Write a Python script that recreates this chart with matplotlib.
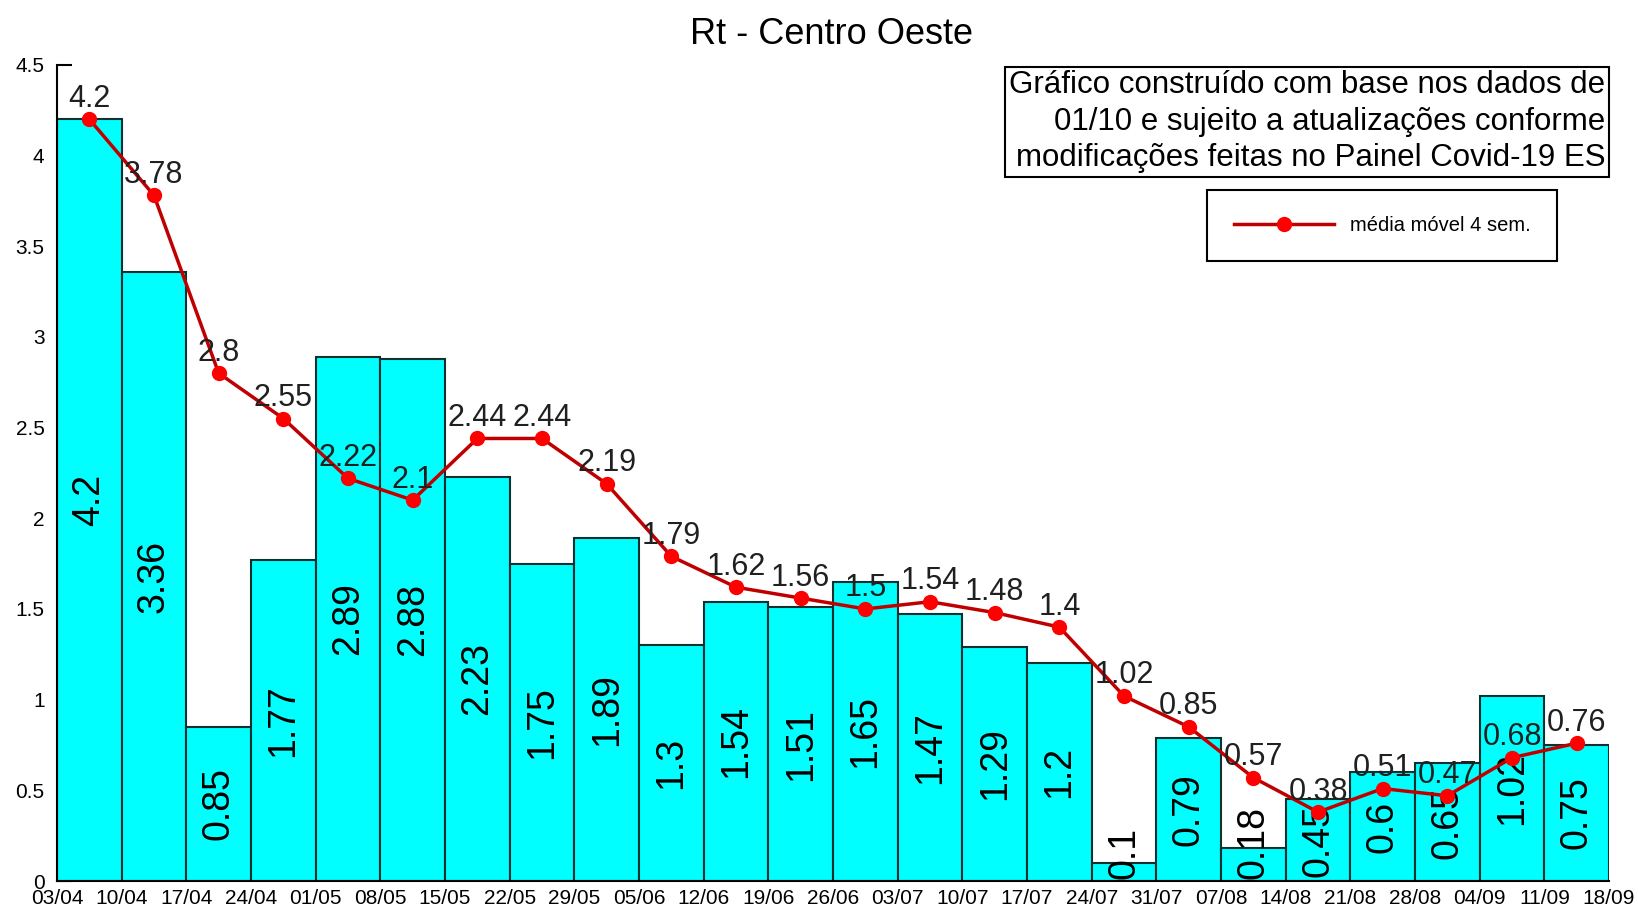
import matplotlib
matplotlib.use("Agg")
import matplotlib.pyplot as plt
import numpy as np

plt.rcParams['font.family'] = ['Liberation Sans', 'DejaVu Sans']

datas = ['03/04', '10/04', '17/04', '24/04', '01/05', '08/05', '15/05', '22/05', '29/05',
         '05/06', '12/06', '19/06', '26/06', '03/07', '10/07', '17/07', '24/07', '31/07',
         '07/08', '14/08', '21/08', '28/08', '04/09', '11/09', '18/09']
rt_semanal = [4.2, 3.36, 0.85, 1.77, 2.89, 2.88, 2.23, 1.75, 1.89, 1.3, 1.54, 1.51,
              1.65, 1.47, 1.29, 1.2, 0.1, 0.79, 0.18, 0.45, 0.6, 0.65, 1.02, 0.75]
media_movel = [4.2, 3.78, 2.8, 2.55, 2.22, 2.1, 2.44, 2.44, 2.19, 1.79, 1.62, 1.56,
               1.5, 1.54, 1.48, 1.4, 1.02, 0.85, 0.57, 0.38, 0.51, 0.47, 0.68, 0.76]

fig = plt.figure(figsize=(16.38, 9.13), dpi=100)
ax = fig.add_axes([0.0348, 0.035, 0.9475, 0.894])

x = np.arange(len(rt_semanal)) + 0.5
ax.set_axisbelow(True)
ax.bar(x, rt_semanal, width=1.0, color='#00FFFF', edgecolor='#103030', linewidth=1.5)

# rotulos das barras, os pequenos comecam no zero
for xi, v in zip(x, rt_semanal):
    if v < 0.4:
        ax.text(xi, 0.01, str(v), rotation=90, ha='center', va='bottom',
                fontsize=27, color='black')
    else:
        ax.text(xi, v / 2, str(v), rotation=90, ha='center', va='center',
                fontsize=27, color='black')

ax.plot(x, media_movel, color='#C00000', linewidth=2.5, marker='o',
        markersize=10, markerfacecolor='#FF0000', markeredgecolor='#FF0000',
        label='média móvel 4 sem.', zorder=3)

for xi, v in zip(x, media_movel):
    ax.annotate(str(v), (xi, v), xytext=(0, 4), textcoords='offset points',
                ha='center', va='bottom', fontsize=22, color='#202020', zorder=4)

ax.set_xlim(0, len(rt_semanal))
ax.set_ylim(0, 4.5)
ax.set_xticks(np.arange(len(datas)))
ax.set_xticklabels(datas, fontsize=15)
ax.set_yticks(np.arange(0, 4.51, 0.5))
ax.set_yticklabels(['0', '0.5', '1', '1.5', '2', '2.5', '3', '3.5', '4', '4.5'], fontsize=15)
ax.tick_params(axis='x', length=0, pad=6)
ax.tick_params(axis='y', direction='in', length=11, width=1.5, pad=9)
ax.spines['top'].set_visible(False)
ax.spines['right'].set_visible(False)
ax.spines['left'].set_linewidth(1.5)
ax.spines['bottom'].set_linewidth(1.5)

fig.text(0.5075, 0.962, 'Rt - Centro Oeste', ha='center', va='center',
         fontsize=26)

fig.text(0.980, 0.923, 'Gráfico construído com base nos dados de\n'
         '01/10 e sujeito a atualizações conforme\n'
         'modificações feitas no Painel Covid-19 ES',
         ha='right', va='top', multialignment='right', fontsize=22.5,
         linespacing=1.28,
         bbox=dict(boxstyle='square,pad=0.12', facecolor='white',
                   edgecolor='black', linewidth=1.5))

leg = ax.legend(loc='upper left', bbox_to_anchor=(0.731, 0.803),
                bbox_transform=fig.transFigure, fontsize=14.5, handlelength=5,
                borderpad=1.3, fancybox=False, framealpha=1, edgecolor='black')
leg.get_frame().set_linewidth(1.5)

fig.savefig('out.png', dpi=100)
